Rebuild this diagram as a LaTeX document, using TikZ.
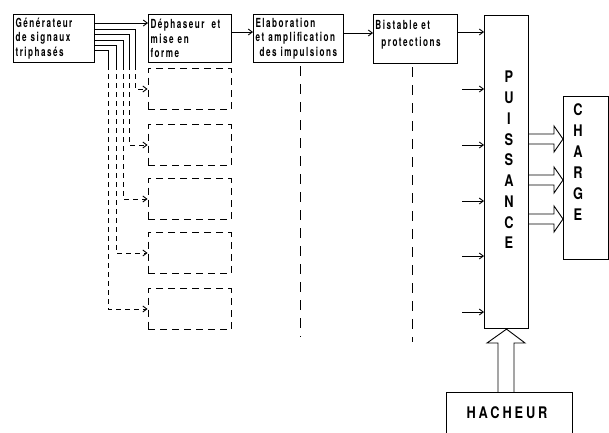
\documentclass[tikz,border=0pt]{standalone}
\usepackage{fontspec}
\setmainfont{TeX Gyre Heros}[FakeStretch=0.8]
\newfontfamily\etroite{TeX Gyre Heros}[FakeStretch=0.65, LetterSpace=12]
\usetikzlibrary{arrows.meta}

\newcommand{\petit}[1][14.5]{\etroite\fontsize{12.5}{#1}\selectfont\bfseries}
\newcommand{\gros}[1][20.75]{\fontsize{16}{#1}\selectfont\bfseries}

\begin{document}
\begin{tikzpicture}[x=1pt,y=-1pt,line width=0.9pt]
			\tikzstyle{bloc} = [draw, line width=1.1pt, rectangle, inner sep=2pt, align=left, font=\petit]
			\tikzstyle{cadre} = [draw, line width=1.1pt, rectangle, anchor=north west]
			\tikzstyle{vide} = [draw, rectangle, dash pattern=on 7pt off 5pt, minimum width=83pt, minimum height=41pt]
			\tikzstyle{fleche} = [-{Straight Barb[length=4pt,width=6pt]}]
			\tikzstyle{tiret} = [dash pattern=on 5pt off 4pt]
			\tikzstyle{pointille} = [dash pattern=on 10pt off 8pt]
			\tikzstyle{lettres} = [align=center, inner sep=0pt]
			\useasboundingbox (0,0) rectangle (609,432);
			\clip (0,0) rectangle (609,432);
			% chaine de commande
			\node[bloc, text width=77pt, minimum height=48pt, anchor=north west] (gen) at (13,14) {Générateur\\de signaux\\triphasés};
			\node[bloc, text width=79pt, minimum height=48pt, anchor=north west] (deph) at (148,14) {Déphaseur\hspace{3pt} et\\mise en\\forme};
			\node[bloc, text width=86pt, minimum height=48pt, anchor=north west] (elab) at (253,14) {Elaboration\\et amplification\\\hspace*{4pt}des impulsions};
			\node[cadre, minimum width=84pt, minimum height=49pt] (bist) at (373,14) {};
			\node[font={\petit[17]}, align=left, anchor=north west, inner sep=0pt] (bistT) at (375,20) {Bistable et\\\hspace*{6pt}protections};
			% puissance, charge, hacheur
			\node[cadre, minimum width=44pt, minimum height=313pt] (puis) at (484,15) {};
			\node[lettres, font=\gros] (puisT) at (509,160) {P\\U\\I\\S\\S\\A\\N\\C\\E};
			\node[cadre, minimum width=45pt, minimum height=163pt] (charge) at (563,96) {};
			\node[lettres, font={\gros[21]}] (chargeT) at (578,162) {C\\H\\A\\R\\G\\E};
			\node[cadre, minimum width=126pt, minimum height=60pt] (hach) at (446,392) {};
			\node[lettres, font={\gros\addfontfeature{LetterSpace=18}}] (hachT) at (507,413) {HACHEUR};
			% voies en pointilles
			\foreach \n/\y in {1/89,2/145,3/199,4/253,5/309}
				\node[vide] (d\n) at (189.5,\y) {};
			\foreach \x/\y/\n in {135/29/1,129/34/2,123/40/3,116/45/4,108/50/5}{
				\coordinate (c\n) at (\x,65);
				\draw (gen.east |- 0,\y) -| (c\n);
				\draw[tiret, fleche] (c\n) |- (d\n.west);
			}
			\draw[fleche] (gen.east |- 0,23) -- (deph.west |- 0,23);
			\draw[fleche] (deph.east |- 0,32) -- (elab.west |- 0,32);
			\draw[fleche] (elab.east |- 0,33) -- (bist.west |- 0,33);
			\draw[fleche] (bist.east |- 0,32) -- (puis.west |- 0,32);
			\coordinate (finE) at (300,337);
			\coordinate (finB) at (412,342);
			\draw[pointille] ([yshift=-3pt]finE |- elab.south) -- (finE);
			\draw[pointille] ([yshift=-3pt]finB |- bist.south) -- (finB);
			\foreach \y in {89,145,201,256,312}{
				\coordinate (e\y) at (462,\y);
				\draw[fleche] (e\y) -- (e\y -| puis.west);
			}
			% fleches creuses
			\foreach \y in {139,180,219}
				\draw (puis.east |- 0,{\y-5}) -- (554,{\y-5}) -- (554,{\y-13}) -- (charge.west |- 0,\y) -- (554,{\y+13}) -- (554,{\y+5}) -- (puis.east |- 0,{\y+5});
			\draw (hach.north -| 498,0) -- (498,343) -- (487,343) -- (puis.south) -- (525,343) -- (514,343) -- (hach.north -| 514,0);
		\end{tikzpicture}
\end{document}
